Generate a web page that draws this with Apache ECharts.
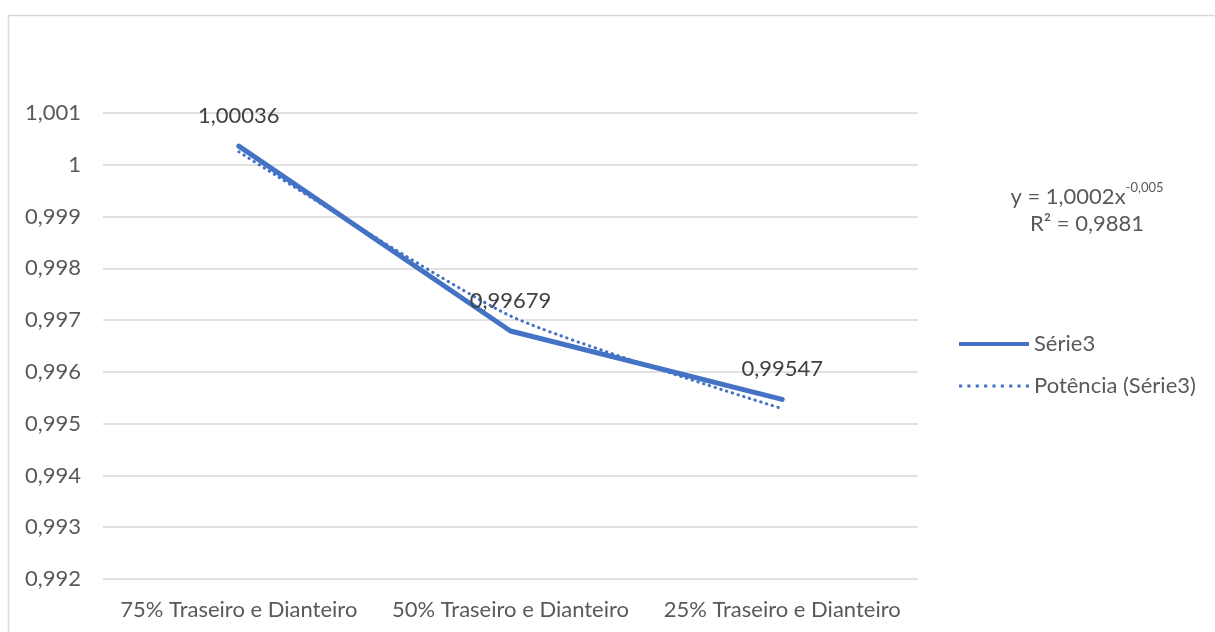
<!DOCTYPE html>
<html>
<head>
<meta charset="utf-8">
<script src="https://cdn.jsdelivr.net/npm/echarts@6/dist/echarts.min.js"></script>
<style>
  html, body { margin: 0; padding: 0; background: #fff; }
  #chart { width: 1215px; height: 632px; }
</style>
</head>
<body>
<div id="chart"></div>
<script>
const categories = ['75% Traseiro e Dianteiro', '50% Traseiro e Dianteiro', '25% Traseiro e Dianteiro']
const serie3 = [1.00036, 0.99679, 0.99547]
const trend = [1.00025, 0.99708, 0.99529]
const yTicks = { min: 0.992, max: 1.001, step: 0.001 }

const FONT = 'Lato, "Open Sans", sans-serif'
const TEXT = '#595959'
const BLUE = '#4472C4'
const FS = 22

const fmt = v => String(+v.toFixed(5)).replace('.', ',')

// dotted legend icon: a row of small squares
const dots = Array.from({ length: 9 }, (_, i) => `M${i * 8},6h3v3h-3z`).join(' ')

const chart = echarts.init(document.getElementById('chart'), null, { renderer: 'canvas' })

chart.setOption({
  animation: false,
  textStyle: { fontFamily: FONT },
  grid: { left: 103, right: 297, top: 113, bottom: 53 },
  xAxis: {
    type: 'category',
    data: categories,
    boundaryGap: true,
    axisLine: { show: false },
    axisTick: { show: false },
    axisLabel: { color: TEXT, fontSize: FS, fontFamily: FONT, margin: 20, interval: 0 },
  },
  yAxis: {
    type: 'value',
    min: yTicks.min,
    max: yTicks.max,
    interval: yTicks.step,
    axisLine: { show: false },
    axisTick: { show: false },
    axisLabel: {
      color: TEXT, fontSize: FS, fontFamily: FONT, margin: 22,
      formatter: v => fmt(v),
    },
    splitLine: { lineStyle: { color: '#D9D9D9', width: 1.5 } },
  },
  legend: {
    orient: 'vertical',
    left: 954,
    top: 328,
    itemWidth: 70,
    itemHeight: 14,
    itemGap: 20,
    textStyle: { color: TEXT, fontSize: FS, fontFamily: FONT },
    data: [
      { name: 'Série3', icon: 'path://M0,6 L70,6 L70,10 L0,10 Z' },
      { name: 'Potência (Série3)', icon: 'path://' + dots },
    ],
  },
  series: [
    {
      name: 'Série3',
      type: 'line',
      data: serie3,
      symbol: 'circle',
      symbolSize: 0.01,
      showSymbol: true,
      lineStyle: { color: BLUE, width: 5, cap: 'round' },
      itemStyle: { color: BLUE },
      label: {
        show: true,
        position: 'top',
        distance: 19,
        color: '#404040',
        fontSize: FS,
        fontFamily: FONT,
        formatter: p => fmt(p.value),
      },
      z: 3,
    },
    {
      name: 'Potência (Série3)',
      type: 'line',
      data: trend,
      smooth: 0.2,
      symbol: 'none',
      lineStyle: { color: BLUE, width: 3, type: [0.5, 5.5], cap: 'round' },
      itemStyle: { color: BLUE },
      z: 2,
    },
  ],
  graphic: [
    {
      type: 'rect',
      shape: { x: 8.5, y: 15.5, width: 1300, height: 700 },
      style: { fill: 'none', stroke: '#D9D9D9', lineWidth: 1.5 },
      silent: true,
      z: -1,
    },
    {
      type: 'text',
      x: 1087,
      y: 178,
      style: {
        text: '{m|y = 1,0002x}{s|-0,005}',
        align: 'center',
        rich: {
          m: { fontSize: FS, fontFamily: FONT, fill: TEXT, lineHeight: 30, verticalAlign: 'bottom' },
          s: { fontSize: 13, fontFamily: FONT, fill: TEXT, lineHeight: 30, verticalAlign: 'top', padding: [3, 0, 0, 0] },
        },
      },
    },
    {
      type: 'text',
      x: 1087,
      y: 213,
      style: { text: 'R² = 0,9881', align: 'center', fontSize: FS, fontFamily: FONT, fill: TEXT },
    },
  ],
})
</script>
</body>
</html>
